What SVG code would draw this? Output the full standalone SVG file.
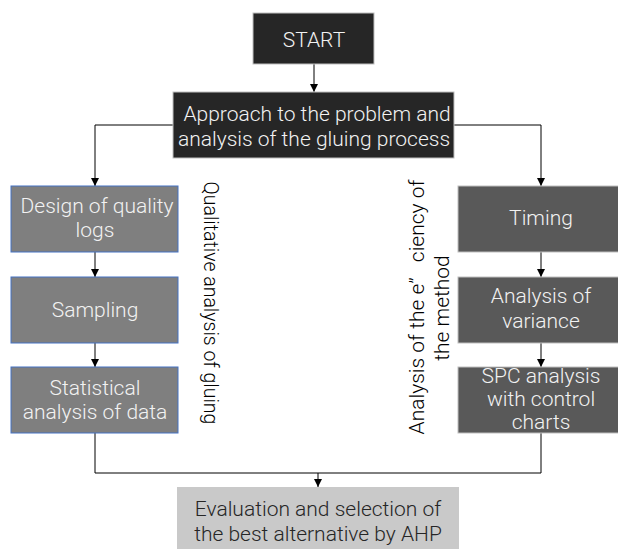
<svg xmlns="http://www.w3.org/2000/svg" width="618" height="549" viewBox="0 0 618 549">
  <style>
    text { font-family: Roboto, "Noto Sans", "DejaVu Sans", sans-serif; font-size: 21px; font-weight: 300; text-anchor: middle; }
    .dark rect { fill: #262626; stroke: #bfbfbf; stroke-width: 1; }
    .mid rect { fill: #7f7f7f; stroke: #4472c4; stroke-width: 1; }
    .deep rect { fill: #595959; stroke: #bfbfbf; stroke-width: 1; }
    .light rect { fill: #c9c9c9; stroke: none; }
    .dark text, .mid text, .deep text { fill: #f2f2f2; }
    .light text { fill: #262626; }
    .side { fill: #000000; font-size: 19.5px; }
    .side-wide { fill: #000000; font-size: 21px; }
    .conn { fill: none; stroke: #000000; stroke-width: 1; }
  </style>
  <defs>
    <marker id="arrow" viewBox="0 0 8 8" refX="8" refY="4" markerWidth="8" markerHeight="8" markerUnits="userSpaceOnUse" orient="auto">
      <path d="M0,0 L8,4 L0,8 Z" fill="#000000"/>
    </marker>
  </defs>
  <rect width="618" height="549" fill="#ffffff"/>

  <!-- connectors -->
  <g id="connectors">
    <path class="conn" d="M314,64 V92" marker-end="url(#arrow)"/>
    <path class="conn" d="M173,125 H95 V186" marker-end="url(#arrow)"/>
    <path class="conn" d="M454,125 H541 V186" marker-end="url(#arrow)"/>
    <path class="conn" d="M95,252 V277" marker-end="url(#arrow)"/>
    <path class="conn" d="M95,343 V367" marker-end="url(#arrow)"/>
    <path class="conn" d="M541,252 V277" marker-end="url(#arrow)"/>
    <path class="conn" d="M541,343 V367" marker-end="url(#arrow)"/>
    <path class="conn" d="M95,433 V473 H541 V433"/>
    <path class="conn" d="M318,473 V487" marker-end="url(#arrow)"/>
  </g>

  <g id="start" class="dark">
    <rect x="253" y="13" width="121" height="51"/>
    <text x="314" y="47">START</text>
  </g>

  <g id="approach" class="dark">
    <rect x="173" y="92" width="281" height="66"/>
    <text x="317" y="121">Approach to the problem and</text>
    <text x="314" y="146">analysis of the gluing process</text>
  </g>

  <g id="design" class="mid">
    <rect x="11" y="186" width="167" height="66"/>
    <text x="97" y="213">Design of quality</text>
    <text x="95" y="237">logs</text>
  </g>

  <g id="sampling" class="mid">
    <rect x="11" y="277" width="167" height="66"/>
    <text x="95" y="317">Sampling</text>
  </g>

  <g id="statistical" class="mid">
    <rect x="11" y="367" width="167" height="66"/>
    <text x="95" y="395">Statistical</text>
    <text x="95" y="419">analysis of data</text>
  </g>

  <g id="timing" class="deep">
    <rect x="458" y="186" width="166" height="66"/>
    <text x="541" y="225">Timing</text>
  </g>

  <g id="variance" class="deep">
    <rect x="458" y="277" width="166" height="66"/>
    <text x="541" y="303">Analysis of</text>
    <text x="541" y="328">variance</text>
  </g>

  <g id="spc" class="deep">
    <rect x="458" y="367" width="166" height="66"/>
    <text x="541" y="383">SPC analysis</text>
    <text x="541" y="406">with control</text>
    <text x="541" y="429">charts</text>
  </g>

  <g id="evaluation" class="light">
    <rect x="177" y="487" width="282" height="62"/>
    <text x="318" y="516">Evaluation and selection of</text>
    <text x="318" y="541">the best alternative by AHP</text>
  </g>

  <!-- side labels -->
  <g id="qualitative-label">
    <text class="side" transform="translate(204,303) rotate(90)">Qualitative analysis of gluing</text>
  </g>
  <g id="efficiency-label">
    <text class="side-wide" transform="translate(424,307) rotate(-90)" xml:space="preserve">Analysis of the e”   ciency of</text>
    <text class="side-wide" transform="translate(449,308) rotate(-90)">the method</text>
  </g>
</svg>
